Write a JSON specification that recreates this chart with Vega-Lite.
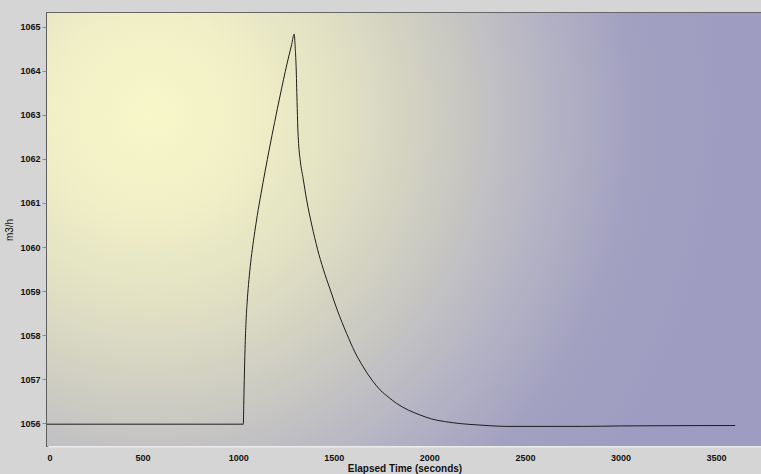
{
  "$schema": "https://vega.github.io/schema/vega-lite/v6.json",
  "width": 715,
  "height": 433,
  "autosize": "none",
  "padding": {"left": 47, "top": 13, "right": 0, "bottom": 28},
  "background": "#d5d5d5",
  "config": {
    "view": {"stroke": "#666666", "strokeWidth": 2, "fill": null},
    "axis": {"labelFont": "Liberation Sans", "titleFont": "Liberation Sans", "grid": false}
  },
  "data": {"values": [
    {"t": 0, "v": 1055.98},
    {"t": 1027, "v": 1055.98},
    {"t": 1029, "v": 1056.4},
    {"t": 1032, "v": 1057.0},
    {"t": 1036, "v": 1057.7},
    {"t": 1041, "v": 1058.3},
    {"t": 1047, "v": 1058.75},
    {"t": 1054, "v": 1059.15},
    {"t": 1063, "v": 1059.55},
    {"t": 1074, "v": 1059.95},
    {"t": 1087, "v": 1060.35},
    {"t": 1100, "v": 1060.72},
    {"t": 1120, "v": 1061.22},
    {"t": 1140, "v": 1061.7},
    {"t": 1165, "v": 1062.27},
    {"t": 1190, "v": 1062.82},
    {"t": 1220, "v": 1063.45},
    {"t": 1255, "v": 1064.15},
    {"t": 1280, "v": 1064.6},
    {"t": 1293, "v": 1064.83},
    {"t": 1298, "v": 1064.55},
    {"t": 1303, "v": 1064.1},
    {"t": 1308, "v": 1063.3},
    {"t": 1312, "v": 1062.7},
    {"t": 1316, "v": 1062.35},
    {"t": 1325, "v": 1061.95},
    {"t": 1340, "v": 1061.55},
    {"t": 1358, "v": 1061.07},
    {"t": 1385, "v": 1060.5},
    {"t": 1415, "v": 1059.95},
    {"t": 1445, "v": 1059.5},
    {"t": 1480, "v": 1059.05},
    {"t": 1520, "v": 1058.55},
    {"t": 1567, "v": 1058.04},
    {"t": 1610, "v": 1057.62},
    {"t": 1654, "v": 1057.28},
    {"t": 1700, "v": 1056.98},
    {"t": 1742, "v": 1056.76},
    {"t": 1790, "v": 1056.58},
    {"t": 1829, "v": 1056.45},
    {"t": 1890, "v": 1056.3},
    {"t": 1951, "v": 1056.19},
    {"t": 2010, "v": 1056.1},
    {"t": 2080, "v": 1056.04},
    {"t": 2170, "v": 1055.99},
    {"t": 2265, "v": 1055.96},
    {"t": 2400, "v": 1055.93},
    {"t": 2800, "v": 1055.93},
    {"t": 3000, "v": 1055.94},
    {"t": 3600, "v": 1055.95}
  ]},
  "layer": [
    {
      "mark": {"type": "rect", "clip": true, "fill": {"gradient": "radial", "x1": 0.145, "y1": 0.143, "r1": 0, "x2": 0.145, "y2": 0.143, "r2": 0.8, "stops": [
        {"offset": 0, "color": "#f8f7ca"},
        {"offset": 0.175, "color": "#f0efc6"},
        {"offset": 0.35, "color": "#e0dfc3"},
        {"offset": 0.52, "color": "#cbcac2"},
        {"offset": 0.7, "color": "#b4b3c4"},
        {"offset": 0.84, "color": "#a3a1c1"},
        {"offset": 1, "color": "#9e9cc0"}
      ]}},
      "encoding": {
        "x": {"datum": 0, "type": "quantitative", "scale": {"domain": [0, 3740], "nice": false, "zero": false},
          "axis": {"orient": "bottom", "values": [100,200,300,400,600,700,800,900,1100,1200,1300,1400,1600,1700,1800,1900,2100,2200,2300,2400,2600,2700,2800,2900,3100,3200,3300,3400,3600,3700], "labels": false, "domain": false, "tickSize": -4, "tickColor": "#dcdcdc", "title": null}},
        "x2": {"datum": 3740},
        "y": {"datum": 1049.09, "type": "quantitative", "scale": {"domain": [1055.485, 1065.31], "nice": false, "zero": false},
          "axis": {"orient": "left", "values": [1055.6,1055.8,1056.2,1056.4,1056.6,1056.8,1057.2,1057.4,1057.6,1057.8,1058.2,1058.4,1058.6,1058.8,1059.2,1059.4,1059.6,1059.8,1060.2,1060.4,1060.6,1060.8,1061.2,1061.4,1061.6,1061.8,1062.2,1062.4,1062.6,1062.8,1063.2,1063.4,1063.6,1063.8,1064.2,1064.4,1064.6,1064.8,1065.2], "labels": false, "domain": false, "tickSize": -5, "tickColor": "#c8c8c8", "title": null}},
        "y2": {"datum": 1065.31}
      }
    },
    {
      "mark": {"type": "line", "color": "#1c1c1c", "strokeWidth": 1, "interpolate": "monotone"},
      "encoding": {
        "x": {"field": "t", "type": "quantitative",
          "axis": {"orient": "bottom", "values": [0,500,1000,1500,2000,2500,3000,3500], "format": "d", "title": "Elapsed Time (seconds)", "titleFontSize": 10, "titleFontWeight": "bold", "titleColor": "#111111", "titlePadding": 1,
            "labelFontSize": 9, "labelFontWeight": "bold", "labelColor": "#111111", "tickSize": -6, "tickColor": "#666666", "tickWidth": 1, "labelPadding": 13,
            "domainColor": "#ececec", "domainWidth": 2}},
        "y": {"field": "v", "type": "quantitative",
          "axis": {"orient": "left", "values": [1056,1057,1058,1059,1060,1061,1062,1063,1064,1065], "format": "d", "title": "m3/h", "titleFontSize": 10, "titleFontWeight": "normal", "titleColor": "#111111", "titlePadding": 5,
            "labelFontSize": 9, "labelFontWeight": "bold", "labelColor": "#111111", "tickSize": 5, "tickColor": "#888888", "labelPadding": 2,
            "domainColor": "#555555", "domainWidth": 2}}
      }
    }
  ],
  "resolve": {"axis": {"x": "independent", "y": "independent"}}
}
